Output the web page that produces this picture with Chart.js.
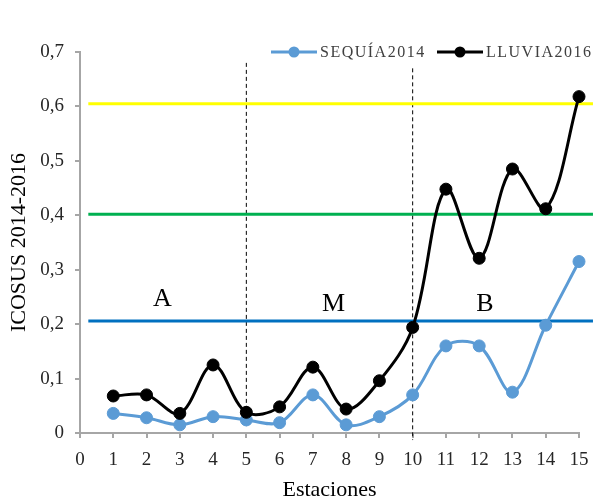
<!DOCTYPE html>
<html>
<head>
<meta charset="utf-8">
<script src="https://cdn.jsdelivr.net/npm/chart.js@4.4.1/dist/chart.umd.min.js"></script>
<style>
html,body{margin:0;padding:0;background:#fff;}
#wrap{width:593px;height:501px;position:relative;}
</style>
</head>
<body>
<div id="wrap"><canvas id="c" width="593" height="501"></canvas></div>
<script>
// ---- data ----
const estaciones = [1,2,3,4,5,6,7,8,9,10,11,12,13,14,15];
const sequia2014 = [0.036,0.028,0.015,0.030,0.024,0.019,0.070,0.015,0.030,0.070,0.160,0.160,0.075,0.198,0.315];
const lluvia2016 = [0.068,0.070,0.036,0.125,0.038,0.048,0.121,0.044,0.096,0.194,0.448,0.321,0.485,0.412,0.618];
const seriesNames = ['SEQUÍA2014','LLUVIA2016'];
const seriesColors = ['#5B9BD5','#000000'];
const thresholdValues = [0.605,0.402,0.206];
const thresholdColors = ['#FFFF00','#00B050','#0070C0'];
const thresholdRange = [0.25,15.42];
const dividerX = [5,10];
const dividerTop = [0.68,0.67];
const dividerBottom = [0.011,-0.013];
const zoneLabels = ['A','M','B'];
const zoneX = [2.48,7.62,12.17];
const zoneY = [0.246,0.237,0.237];
const yTicks = [0,0.1,0.2,0.3,0.4,0.5,0.6,0.7];

const FONT = '"Liberation Serif","Times New Roman",serif';

const toXY = (xs, ys) => xs.map((x,i)=>({x, y: ys[i]}));

const datasets = [
  {
    label: seriesNames[1], data: toXY(estaciones, lluvia2016),
    borderColor: seriesColors[1], backgroundColor: seriesColors[1],
    borderWidth: 3, pointRadius: 6, pointBorderWidth: 1, pointHoverRadius: 6,
    tension: 0.35, order: 0, clip: false
  },
  {
    label: seriesNames[0], data: toXY(estaciones, sequia2014),
    borderColor: seriesColors[0], backgroundColor: seriesColors[0],
    borderWidth: 3, pointRadius: 6, pointBorderWidth: 1, pointHoverRadius: 6,
    tension: 0.35, order: 1, clip: false
  }
];
thresholdValues.forEach((v,i)=>{
  datasets.push({
    label: 'umbral'+i, data: thresholdRange.map(x=>({x, y:v})),
    borderColor: thresholdColors[i], borderWidth: 3, pointRadius: 0,
    tension: 0, order: 5, clip: false
  });
});
dividerX.forEach((x,i)=>{
  datasets.push({
    label: 'div'+i, data: [{x, y: dividerTop[i]},{x, y: dividerBottom[i]}],
    borderColor: '#000', borderWidth: 1, borderDash: [4,3], pointRadius: 0,
    tension: 0, order: 6, clip: false
  });
});

const overlayPlugin = {
  id: 'overlay',
  afterDatasetsDraw(chart) {
    const ctx = chart.ctx, xs = chart.scales.x, ys = chart.scales.y;
    ctx.save();
    // zone letters
    ctx.fillStyle = '#000';
    ctx.font = '26px ' + FONT;
    ctx.textAlign = 'center';
    ctx.textBaseline = 'middle';
    zoneLabels.forEach((t,i)=>{
      ctx.fillText(t, xs.getPixelForValue(zoneX[i]), ys.getPixelForValue(zoneY[i]));
    });
    // legend
    const items = [
      {name: seriesNames[0], color: seriesColors[0], x0: 271},
      {name: seriesNames[1], color: seriesColors[1], x0: 437}
    ];
    const ly = 52;
    items.forEach(it=>{
      ctx.strokeStyle = it.color; ctx.lineWidth = 3;
      ctx.beginPath(); ctx.moveTo(it.x0, ly); ctx.lineTo(it.x0+46, ly); ctx.stroke();
      ctx.fillStyle = it.color;
      ctx.beginPath(); ctx.arc(it.x0+23, ly, 5.5, 0, Math.PI*2); ctx.fill();
      ctx.fillStyle = '#404040';
      ctx.font = '16px ' + FONT;
      ctx.textAlign = 'left';
      ctx.textBaseline = 'middle';
      try { ctx.letterSpacing = '1.5px'; } catch(e) {}
      ctx.fillText(it.name, it.x0+49, ly+1);
      try { ctx.letterSpacing = '0px'; } catch(e) {}
    });
    ctx.restore();
  }
};

new Chart(document.getElementById('c'), {
  type: 'line',
  data: { datasets },
  options: {
    responsive: false,
    animation: false,
    layout: { padding: { left: 0, right: 14, top: 52, bottom: 0 } },
    plugins: { legend: { display: false }, tooltip: { enabled: false } },
    scales: {
      x: {
        type: 'linear', min: 0, max: 15,
        afterFit: s => { s.height = 68; s.paddingRight = 0; s.paddingLeft = 0; },
        border: { color: '#A6A6A6', width: 2 },
        grid: { drawOnChartArea: false, drawTicks: true, tickLength: 5, color: '#A6A6A6', lineWidth: 2 },
        ticks: { stepSize: 1, color: '#262626', font: { family: FONT, size: 19 }, padding: 11, maxRotation: 0, autoSkip: false },
        title: { display: true, text: 'Estaciones', color: '#000', font: { family: FONT, size: 22, lineHeight: 1.0 }, padding: { top: 0, bottom: 0 } }
      },
      y: {
        min: 0, max: 0.7,
        afterFit: s => { s.width = 80; },
        afterBuildTicks: s => { s.ticks = yTicks.map(v=>({value:v})); },
        border: { color: '#A6A6A6', width: 2 },
        grid: { drawOnChartArea: false, drawTicks: true, tickLength: 5, color: '#A6A6A6', lineWidth: 2 },
        ticks: { color: '#262626', font: { family: FONT, size: 19 }, padding: 11,
          callback: v => String(Math.round(v*10)/10).replace('.', ',') },
        title: { display: true, text: 'ICOSUS 2014-2016', color: '#000', font: { family: FONT, size: 22 }, padding: { top: 6, bottom: 0 } }
      }
    }
  },
  plugins: [overlayPlugin]
});
</script>
</body>
</html>
